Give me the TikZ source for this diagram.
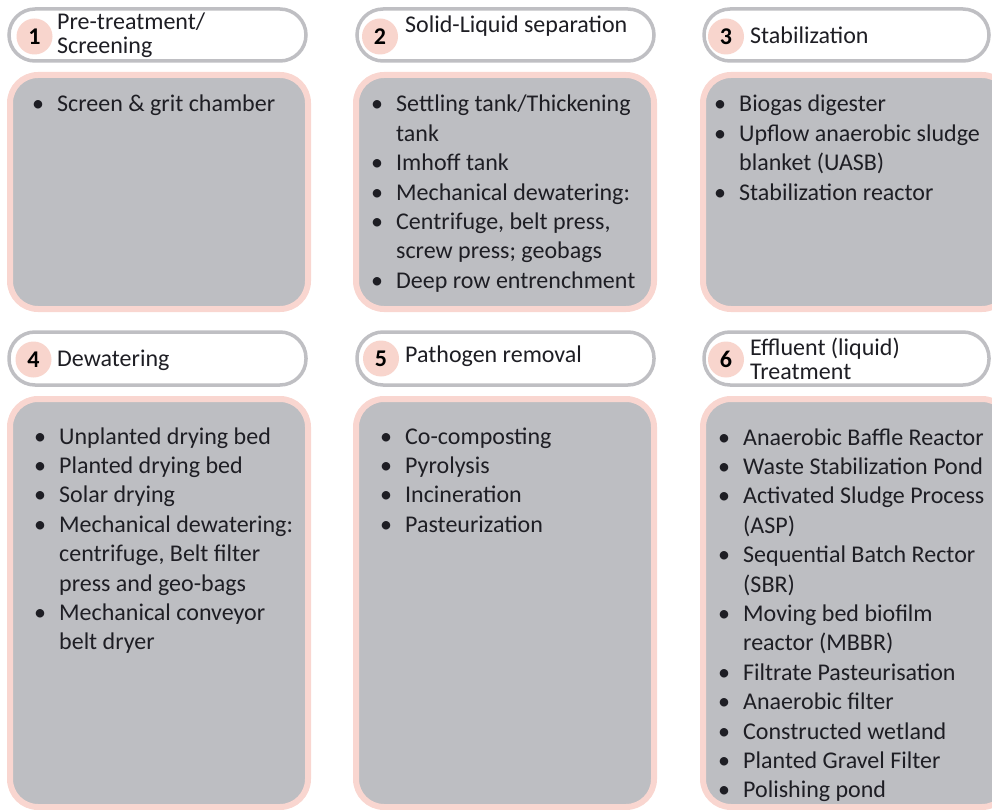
\documentclass[tikz,border=0pt]{standalone}
\usepackage{fontspec}
\setmainfont{Carlito}
\definecolor{boxgray}{HTML}{BDBEC2}
\definecolor{boxrim}{HTML}{F9D6D0}
\definecolor{pillrim}{HTML}{BFBFC3}
\definecolor{numfill}{HTML}{F8D5CD}
\definecolor{inktext}{HTML}{1E1E24}
% bullet and hanging-indent helpers for the item lists
\newcommand\itembul{\makebox[25pt][l]{•}}
\newcommand\itemcont{\hspace*{25pt}}
\newcommand\listtext[1]{\parbox[t]{300pt}{\raggedright\fontsize{24}{29.4}\selectfont #1}}
\newcommand\headtext[1]{\parbox[t]{260pt}{\raggedright\fontsize{24}{24}\selectfont #1}}
\tikzset{
  pill/.style={draw=pillrim, line width=3.5pt, fill=white, rounded corners=26pt},
  panel/.style={draw=boxrim, line width=6pt, fill=boxgray, rounded corners=28pt},
  numdisc/.style={circle, fill=numfill, minimum size=36pt, inner sep=0pt,
    font=\fontsize{24}{24}\selectfont\bfseries, text=black},
  txt/.style={anchor=base west, inner sep=0pt, text=inktext},
}
\begin{document}
\begin{tikzpicture}[x=1pt, y=-1pt]
\useasboundingbox (0,0) rectangle (992,810);
\clip (0,0) rectangle (992,810);

% ---- row 1: headers ----
\draw[pill] (9,9) rectangle (306,61);
\draw[pill] (357,9) rectangle (654,61);
\draw[pill] (704,9) rectangle (989,61);
% ---- row 1: panels ----
\draw[panel] (10,75) rectangle (308,309);
\draw[panel] (356,75) rectangle (654,309);
\draw[panel] (703,75) rectangle (1010,309);

% ---- row 2: headers ----
\draw[pill] (9,332) rectangle (306,385);
\draw[pill] (357,332) rectangle (654,385);
\draw[pill] (704,332) rectangle (989,385);
% ---- row 2: panels ----
\draw[panel] (10,399) rectangle (308,807);
\draw[panel] (356,399) rectangle (654,807);
\draw[panel] (703,399) rectangle (1010,807);

% ---- step numbers ----
\node[numdisc] (n1) at (34.5,36.5) {1};
\node[numdisc] (n2) at (380,36.5) {2};
\node[numdisc] (n3) at (726,36.5) {3};
\node[numdisc] (n4) at (33.5,359.5) {4};
\node[numdisc] (n5) at (381,358.5) {5};
\node[numdisc] (n6) at (726,359.5) {6};

% ---- header titles ----
\node[txt] (t1) at (57,30) {\headtext{Pre-treatment/\\Screening}};
\node[txt] (t2) at (405,33) {\headtext{Solid-Liquid separation}};
\node[txt] (t3) at (750,44) {\headtext{Stabilization}};
\node[txt] (t4) at (57,366) {\headtext{Dewatering}};
\node[txt] (t5) at (405,362) {\headtext{Pathogen removal}};
\node[txt] (t6) at (750,355) {\headtext{Effluent (liquid)\\Treatment}};

% ---- panel contents ----
\node[txt] (l1) at (32,112) {\listtext{%
\itembul Screen \& grit chamber}};
\node[txt] (l2) at (371,112) {\listtext{%
\itembul Settling tank/Thickening\\
\itemcont tank\\
\itembul Imhoff tank\\
\itembul Mechanical dewatering:\\
\itembul Centrifuge, belt press,\\
\itemcont screw press; geobags\\
\itembul Deep row entrenchment}};
\node[txt] (l3) at (714,112) {\listtext{%
\itembul Biogas digester\\
\itembul Upflow anaerobic sludge\\
\itemcont blanket (UASB)\\
\itembul Stabilization reactor}};
\node[txt] (l4) at (34,444) {\listtext{%
\itembul Unplanted drying bed\\
\itembul Planted drying bed\\
\itembul Solar drying\\
\itembul Mechanical dewatering:\\
\itemcont centrifuge, Belt filter\\
\itemcont press and geo-bags\\
\itembul Mechanical conveyor\\
\itemcont belt dryer}};
\node[txt] (l5) at (380,444) {\listtext{%
\itembul Co-composting\\
\itembul Pyrolysis\\
\itembul Incineration\\
\itembul Pasteurization}};
\node[txt] (l6) at (718,445) {\listtext{%
\itembul Anaerobic Baffle Reactor\\
\itembul Waste Stabilization Pond\\
\itembul Activated Sludge Process\\
\itemcont (ASP)\\
\itembul Sequential Batch Rector\\
\itemcont (SBR)\\
\itembul Moving bed biofilm\\
\itemcont reactor (MBBR)\\
\itembul Filtrate Pasteurisation\\
\itembul Anaerobic filter\\
\itembul Constructed wetland\\
\itembul Planted Gravel Filter\\
\itembul Polishing pond}};
\end{tikzpicture}
\end{document}
